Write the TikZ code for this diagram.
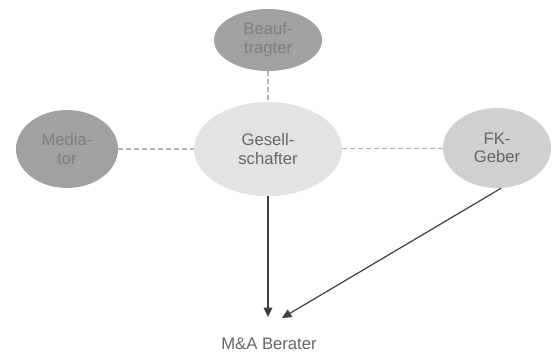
\documentclass[tikz,border=0pt]{standalone}
\usepackage{fontspec}
\setmainfont{Liberation Sans}
\usepackage{tikz}
\usetikzlibrary{shapes.geometric}
\usetikzlibrary{arrows.meta}

\definecolor{darkfill}{HTML}{A0A1A3}
\definecolor{darktext}{HTML}{7E7F81}
\definecolor{lightfill}{HTML}{E3E3E4}
\definecolor{midfill}{HTML}{D0D0D1}
\definecolor{labeltext}{HTML}{666666}
\definecolor{dashgray}{HTML}{B4B4B4}
\definecolor{arrowgray}{HTML}{3F3F3F}

\begin{document}
\begin{tikzpicture}[x=0.75pt, y=-0.75pt,
        party/.style={ellipse, inner sep=0pt, align=center, font=\fontsize{12.5}{14}\selectfont},
        link/.style={draw=dashgray, line width=0.8pt, dash pattern=on 3.5pt off 2.5pt},
        flow/.style={draw=arrowgray, line width=0.9pt, -{Triangle[length=7pt, width=6.5pt]}}]
        \useasboundingbox (0, 0) rectangle (552, 354);

        % Nodes
        \node[party, fill=darkfill, text=darktext, minimum width=81pt, minimum height=46.5pt] (beauf) at (268, 40) {Beauf-\\tragter};
        \node[party, fill=darkfill, text=darktext, minimum width=76.5pt, minimum height=58.5pt] (mediator) at (67, 149) {Media-\\tor};
        \node[party, fill=lightfill, text=labeltext, minimum width=111pt, minimum height=70.5pt] (gesell) at (268, 149) {Gesell-\\schafter};
        \node[party, fill=midfill, text=labeltext, minimum width=81pt, minimum height=60pt] (fk) at (497, 148) {FK-\\Geber};
        \node[text=labeltext, font=\fontsize{12.5}{14}\selectfont] (berater) at (269, 344) {M\&A Berater};
        \coordinate (tipA) at (268, 317);
        \coordinate (tipB) at (282, 318);

        % Lines
        \draw[link] (beauf) -- (gesell);
        \draw[link] (mediator) -- (gesell);
        \draw[link] (gesell) -- (fk);
        \draw[flow] (gesell.south) -- (tipA);
        \draw[flow] (fk.-84) -- (tipB);
    \end{tikzpicture}
\end{document}
